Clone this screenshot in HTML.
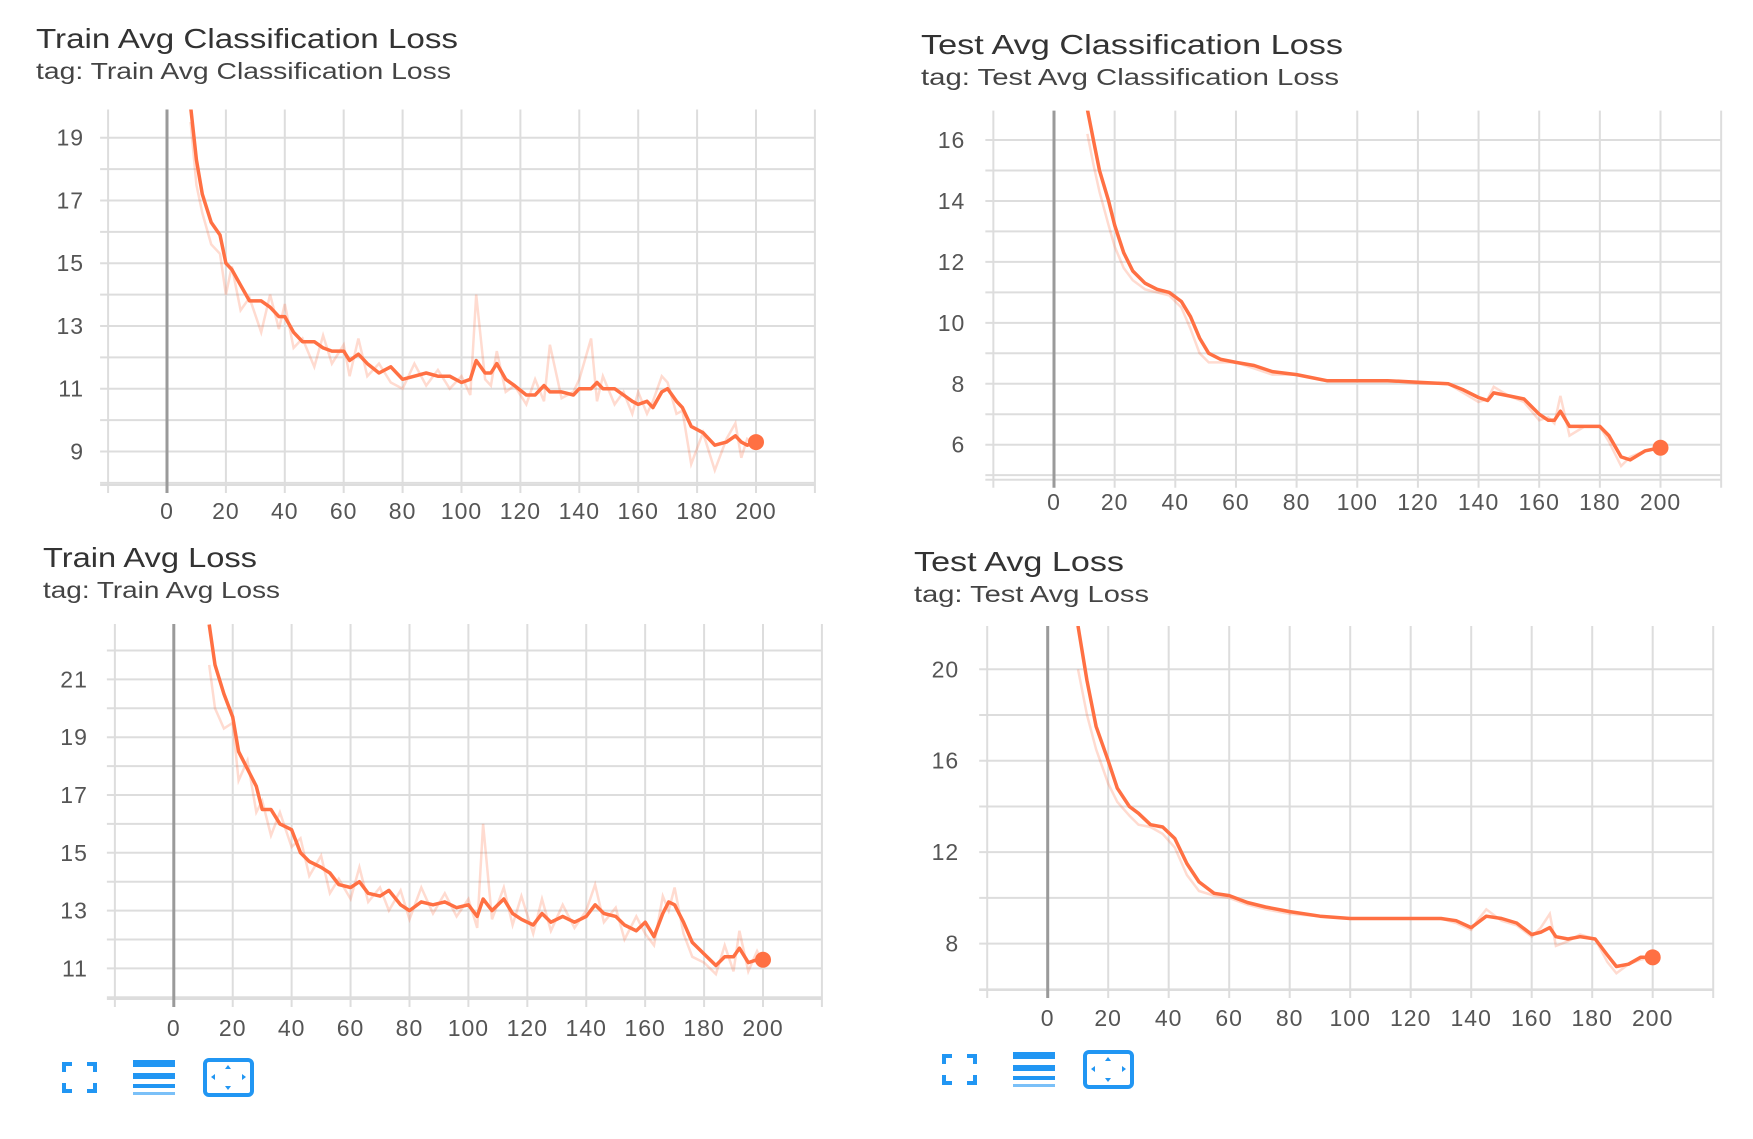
<!DOCTYPE html>
<html><head><meta charset="utf-8">
<style>
html,body{margin:0;padding:0;background:#fff;}
body{width:1753px;height:1139px;overflow:hidden;position:relative;font-family:"Liberation Sans",sans-serif;}
svg{position:absolute;left:0;top:0;}
</style></head>
<body>
<svg id="chart" width="1753" height="1139" viewBox="0 0 1753 1139" xmlns="http://www.w3.org/2000/svg"></svg>
<script>
// ---- Chart 1: Train Avg Classification Loss ----
const c1Steps = [8,10,12,15,18,20,22,25,28,32,35,38,40,43,46,50,53,56,60,62,65,68,72,76,80,84,88,92,96,100,103,105,108,110,112,115,118,122,125,128,130,134,138,140,144,146,148,152,155,158,160,163,165,168,170,173,175,178,182,186,190,193,195,197,200];
const c1Smooth = [20,18.3,17.2,16.3,15.9,15.0,14.8,14.3,13.8,13.8,13.6,13.3,13.3,12.8,12.5,12.5,12.3,12.2,12.2,11.9,12.1,11.8,11.5,11.7,11.3,11.4,11.5,11.4,11.4,11.2,11.3,11.9,11.5,11.5,11.8,11.3,11.1,10.8,10.8,11.1,10.9,10.9,10.8,11.0,11.0,11.2,11.0,11.0,10.8,10.6,10.5,10.6,10.4,10.9,11.0,10.6,10.4,9.8,9.6,9.2,9.3,9.5,9.3,9.2,9.3];
const c1Raw = [19.5,17.5,16.6,15.6,15.3,14.0,14.9,13.5,13.9,12.8,14.0,12.9,13.7,12.3,12.6,11.7,12.7,11.8,12.4,11.4,12.6,11.4,11.8,11.2,11.0,11.8,11.1,11.6,11.0,11.4,10.8,14.0,11.3,11.1,12.2,10.9,11.1,10.5,11.3,10.6,12.4,10.7,10.9,11.3,12.6,10.6,11.4,10.5,10.9,10.2,10.9,10.2,10.6,11.4,11.2,10.2,10.3,8.6,9.6,8.4,9.4,9.9,8.8,9.4,9.2];
const c1YTicks = [9,11,13,15,17,19];
const c1XTicks = [0,20,40,60,80,100,120,140,160,180,200];

// ---- Chart 2: Test Avg Classification Loss ----
const c2Steps = [11,13,15,18,20,23,26,30,34,38,42,45,48,51,55,60,66,72,80,90,100,110,120,130,135,140,143,145,150,155,160,163,165,167,170,175,180,183,187,190,195,200];
const c2Smooth = [17,16,15,14,13.2,12.3,11.7,11.3,11.1,11.0,10.7,10.2,9.5,9.0,8.8,8.7,8.6,8.4,8.3,8.1,8.1,8.1,8.05,8.0,7.8,7.55,7.45,7.7,7.6,7.5,7.0,6.8,6.8,7.1,6.6,6.6,6.6,6.3,5.6,5.5,5.8,5.9];
const c2Raw = [16.2,15.2,14.3,13.2,12.5,11.8,11.4,11.1,11.0,10.9,10.5,9.8,9.0,8.7,8.7,8.7,8.5,8.3,8.3,8.1,8.1,8.1,8.0,8.0,7.7,7.4,7.5,7.9,7.6,7.4,6.8,6.9,6.7,7.6,6.3,6.6,6.6,6.1,5.3,5.6,5.8,5.9];
const c2YTicks = [6,8,10,12,14,16];
const c2XTicks = [0,20,40,60,80,100,120,140,160,180,200];

// ---- Chart 3: Train Avg Loss ----
const c3Steps = [12,14,17,20,22,25,28,30,33,36,40,43,46,50,53,56,60,63,66,70,73,77,80,84,88,92,96,100,103,105,108,112,115,118,122,125,128,132,136,140,143,146,150,153,157,160,163,166,168,170,173,176,180,184,187,190,192,195,198,200];
const c3Smooth = [22.9,21.5,20.5,19.7,18.5,17.9,17.3,16.5,16.5,16.0,15.8,15.0,14.7,14.5,14.3,13.9,13.8,14.0,13.6,13.5,13.7,13.2,13.0,13.3,13.2,13.3,13.1,13.2,12.8,13.4,13.0,13.4,12.9,12.7,12.5,12.9,12.6,12.8,12.6,12.8,13.2,12.9,12.8,12.5,12.3,12.6,12.1,12.9,13.3,13.2,12.6,11.9,11.5,11.1,11.4,11.4,11.7,11.2,11.3,11.3];
const c3Raw = [21.5,20.0,19.3,19.5,17.5,18.2,16.4,16.8,15.6,16.4,15.2,15.5,14.2,14.9,13.6,14.1,13.4,14.5,13.3,13.8,13.0,13.7,12.7,13.8,12.9,13.6,12.8,13.4,12.4,16.0,12.7,13.8,12.5,13.5,12.2,13.4,12.3,13.2,12.4,13.0,13.9,12.6,13.1,12.0,12.8,12.2,11.8,13.5,13.0,13.8,12.2,11.4,11.2,10.8,11.8,10.9,12.3,10.9,11.6,11.2];
const c3YTicks = [11,13,15,17,19,21];
const c3XTicks = [0,20,40,60,80,100,120,140,160,180,200];

// ---- Chart 4: Test Avg Loss ----
const c4Steps = [10,13,16,20,23,27,30,34,38,42,46,50,55,60,66,72,80,90,100,110,120,130,135,140,142,145,150,155,160,163,166,168,172,176,181,185,188,192,196,200];
const c4Smooth = [21.9,19.5,17.5,16.0,14.8,14.0,13.7,13.2,13.1,12.6,11.5,10.7,10.2,10.1,9.8,9.6,9.4,9.2,9.1,9.1,9.1,9.1,9.0,8.7,8.9,9.2,9.1,8.9,8.4,8.5,8.7,8.3,8.2,8.3,8.2,7.5,7.0,7.1,7.4,7.4];
const c4Raw = [20.0,18.0,16.5,15.0,14.2,13.6,13.2,13.1,12.8,12.2,11.0,10.3,10.1,10.0,9.7,9.5,9.3,9.2,9.1,9.1,9.1,9.1,8.9,8.6,9.0,9.5,9.0,8.8,8.3,8.7,9.3,7.9,8.1,8.4,8.2,7.2,6.7,7.1,7.3,7.4];
const c4YTicks = [8,12,16,20];
const c4XTicks = [0,20,40,60,80,100,120,140,160,180,200];

const NS = "http://www.w3.org/2000/svg";
const svg = document.getElementById('chart');
function mk(tag, attrs, parent){const e=document.createElementNS(NS,tag);for(const k in attrs)e.setAttribute(k,attrs[k]);(parent||svg).appendChild(e);return e;}

function drawChart(cfg, steps, smooth, raw, yTicks, xTicks){
  const g = mk('g',{});
  
  
  const xs = v => cfg.x0 + (v - 0) * (cfg.x200 - cfg.x0) / 200;
  const ys = v => cfg.yA + (v - cfg.vA) * (cfg.yB - cfg.yA) / (cfg.vB - cfg.vA);
  const t = mk('text',{x:cfg.tx,y:cfg.ty,'font-size':28,fill:'#333',textLength:cfg.tw,lengthAdjust:'spacingAndGlyphs'},g);
  t.textContent = cfg.title;
  
  
  const st = mk('text',{x:cfg.tx,y:cfg.ty+31,'font-size':23,fill:'#444',textLength:cfg.sw,lengthAdjust:'spacingAndGlyphs'},g);
  st.textContent = 'tag: ' + cfg.title;
  
  
  const left = xs(-20), right = xs(220);
  for(let v=cfg.gMin; v<=cfg.gMax; v+=cfg.gStep){
    const y = ys(v);
    if(y < cfg.top-1 || y > cfg.bottom+1) continue;
    const l = mk('line',{x1:left-8,x2:right,y1:y,y2:y,stroke:'#ddd','stroke-width':2},g);
    
    
  }
  const bl = mk('line',{x1:left-8,x2:right,y1:cfg.bottom,y2:cfg.bottom,stroke:'#ddd','stroke-width':2},g);
  
  
  for(let v=-20; v<=220; v+=20){
    const x = xs(v);
    const l = mk('line',{x1:x,x2:x,y1:cfg.top,y2:cfg.bottom+8,stroke:v===0?'#9a9a9a':'#ddd','stroke-width':v===0?3:2},g);
    
    
  }
  yTicks.forEach(v=>{
    const tt = mk('text',{x:left-cfg.lo,y:ys(v)+8,'font-size':23,'letter-spacing':1,fill:'#555','text-anchor':'end'},g);
    tt.textContent = v;
    
    
  });
  xTicks.forEach(v=>{
    const tt = mk('text',{x:xs(v),y:cfg.xly,'font-size':23,'letter-spacing':1,fill:'#555','text-anchor':'middle'},g);
    tt.textContent = v;
    
    
  });
  const cp = mk('clipPath',{id:'clip-'+cfg.key},g);
  mk('rect',{x:left,y:cfg.top,width:right-left,height:cfg.bottom-cfg.top},cp);
  const pts = arr => arr.map((v,i)=>xs(steps[i]).toFixed(1)+','+ys(v).toFixed(1)).join(' ');
  const rl = mk('polyline',{points:pts(raw),fill:'none',stroke:'#ff7043','stroke-opacity':0.25,'stroke-width':2.5,'clip-path':'url(#clip-'+cfg.key+')'},g);
  
  
  const sl = mk('polyline',{points:pts(smooth),fill:'none',stroke:'#ff7043','stroke-width':3.5,'stroke-linejoin':'round','clip-path':'url(#clip-'+cfg.key+')'},g);
  
  
  const n = steps.length-1;
  const dot = mk('circle',{cx:xs(steps[n]),cy:ys(smooth[n]),r:8,fill:'#ff7043'},g);
  
  
}

drawChart({key:'train-cls',title:'Train Avg Classification Loss',tx:36,ty:48,tw:422,sw:415,lo:24,x0:167,x200:756,vA:19,yA:137.7,vB:9,yB:451.5,top:109.5,bottom:485,gMin:8,gMax:20,gStep:1,xly:519},c1Steps,c1Smooth,c1Raw,c1YTicks,c1XTicks);
drawChart({key:'test-cls',title:'Test Avg Classification Loss',tx:921,ty:54,tw:422,sw:418,lo:28,x0:1054,x200:1660.5,vA:16,yA:140,vB:6,yB:444.7,top:110.6,bottom:479.7,gMin:5,gMax:17,gStep:1,xly:510},c2Steps,c2Smooth,c2Raw,c2YTicks,c2XTicks);
drawChart({key:'train-loss',title:'Train Avg Loss',tx:43,ty:567,tw:214,sw:237,lo:27,x0:173.8,x200:763,vA:21,yA:679.4,vB:11,yB:968.4,top:624,bottom:999,gMin:10,gMax:23,gStep:1,xly:1036},c3Steps,c3Smooth,c3Raw,c3YTicks,c3XTicks);
drawChart({key:'test-loss',title:'Test Avg Loss',tx:914,ty:571,tw:210,sw:235,lo:28,x0:1047.7,x200:1652.7,vA:20,yA:669.3,vB:8,yB:943.6,top:626,bottom:990,gMin:6,gMax:22,gStep:2,xly:1026},c4Steps,c4Smooth,c4Raw,c4YTicks,c4XTicks);

function icons(dx,dy,prefix){
  const g = mk('g',{transform:'translate('+dx+','+dy+')',fill:'#2196f3'});
  
  
  const f = mk('g',{},g);
  
  
  mk('path',{d:'M62 1062h10v4h-6v6h-4zM97 1062h-10v4h6v6h4zM62 1093h10v-4h-6v-6h-4zM97 1093h-10v-4h6v-6h4z'},f);
  const l = mk('g',{},g);
  
  
  mk('rect',{x:133,y:1060,width:42,height:7},l);
  mk('rect',{x:133,y:1073,width:42,height:6},l);
  mk('rect',{x:133,y:1084,width:42,height:4},l);
  mk('rect',{x:133,y:1092,width:42,height:3,opacity:0.6},l);
  const b = mk('g',{},g);
  
  
  mk('rect',{x:205,y:1060,width:47,height:35,rx:4,fill:'none',stroke:'#2196f3','stroke-width':4},b);
  mk('path',{d:'M228 1065l-3 4h6zM228 1090l-3 -4h6zM211 1077l4 -3v6zM246 1077l-4 -3v6z'},b);
}
icons(0,0,'left');
icons(880,-8,'right');
</script>
</body></html>
